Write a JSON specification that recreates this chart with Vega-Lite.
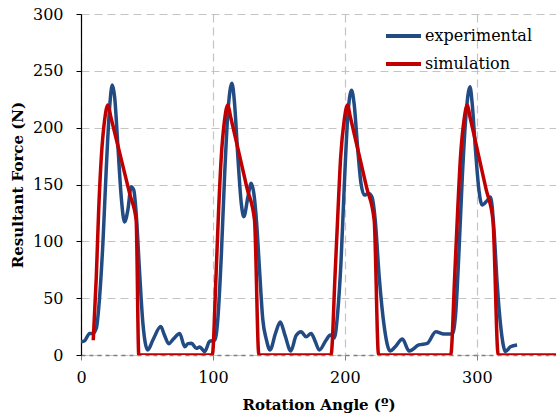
{
  "$schema": "https://vega.github.io/schema/vega-lite/v6.json",
  "width": 475,
  "height": 341,
  "autosize": "none",
  "padding": {"left": 81, "top": 14, "right": 0, "bottom": 65},
  "background": "white",
  "config": {
    "view": {"stroke": null},
    "font": "DejaVu Serif"
  },
  "datasets": {
    "exp": [
      {"angle": 0, "force": 11.7}, {"angle": 2.8, "force": 12.6}, {"angle": 6.5, "force": 19}, {"angle": 9, "force": 19},
      {"angle": 11.6, "force": 23.5}, {"angle": 14.1, "force": 51}, {"angle": 16.6, "force": 98.5}, {"angle": 19.1, "force": 162.7},
      {"angle": 21.7, "force": 218}, {"angle": 23.7, "force": 237.5}, {"angle": 25.5, "force": 227}, {"angle": 28, "force": 183},
      {"angle": 30.5, "force": 139}, {"angle": 33, "force": 117}, {"angle": 35.5, "force": 127.5}, {"angle": 38, "force": 148},
      {"angle": 40, "force": 145}, {"angle": 41.8, "force": 125}, {"angle": 44.3, "force": 75}, {"angle": 46.9, "force": 28},
      {"angle": 50.6, "force": 4.4}, {"angle": 54.4, "force": 13}, {"angle": 60.5, "force": 25}, {"angle": 63.2, "force": 17.6},
      {"angle": 66.5, "force": 10}, {"angle": 70, "force": 14}, {"angle": 74.8, "force": 19}, {"angle": 78.6, "force": 7.3},
      {"angle": 81, "force": 10}, {"angle": 83.7, "force": 10.3}, {"angle": 87.4, "force": 5.9}, {"angle": 90, "force": 7},
      {"angle": 93.7, "force": 3}, {"angle": 97.5, "force": 12}, {"angle": 101.3, "force": 13}, {"angle": 102.5, "force": 18},
      {"angle": 103.8, "force": 33}, {"angle": 106.3, "force": 86.5}, {"angle": 108.8, "force": 156.8}, {"angle": 111.3, "force": 212.6},
      {"angle": 114.4, "force": 239}, {"angle": 116.4, "force": 221}, {"angle": 118.9, "force": 174}, {"angle": 121.5, "force": 133},
      {"angle": 123.4, "force": 121.6}, {"angle": 126.5, "force": 139}, {"angle": 129, "force": 151}, {"angle": 131, "force": 142},
      {"angle": 133.3, "force": 113}, {"angle": 135.3, "force": 75}, {"angle": 137.8, "force": 31}, {"angle": 140.4, "force": 14},
      {"angle": 143.3, "force": 4.4}, {"angle": 147.4, "force": 19}, {"angle": 151, "force": 29}, {"angle": 154.7, "force": 17},
      {"angle": 159, "force": 3.5}, {"angle": 163, "force": 17}, {"angle": 166.8, "force": 20.5}, {"angle": 170.6, "force": 16},
      {"angle": 174.4, "force": 19}, {"angle": 177.5, "force": 12}, {"angle": 180.6, "force": 4.4}, {"angle": 185.7, "force": 13},
      {"angle": 189, "force": 17.6}, {"angle": 192, "force": 15}, {"angle": 194.5, "force": 36.7}, {"angle": 197, "force": 80.6},
      {"angle": 199.5, "force": 148}, {"angle": 202, "force": 206.7}, {"angle": 205, "force": 233}, {"angle": 207, "force": 221},
      {"angle": 209.6, "force": 183}, {"angle": 212.2, "force": 151}, {"angle": 214.7, "force": 140.7}, {"angle": 218, "force": 142},
      {"angle": 220.5, "force": 139}, {"angle": 223, "force": 118.7}, {"angle": 226, "force": 68.9}, {"angle": 229.8, "force": 25},
      {"angle": 234.3, "force": 3.5}, {"angle": 238, "force": 7}, {"angle": 243.6, "force": 14}, {"angle": 248.7, "force": 3.5},
      {"angle": 256, "force": 8.8}, {"angle": 262.5, "force": 10.3}, {"angle": 268.9, "force": 20.5}, {"angle": 275, "force": 18.5},
      {"angle": 281.4, "force": 18.5}, {"angle": 284, "force": 37}, {"angle": 286.5, "force": 92}, {"angle": 289, "force": 156.8},
      {"angle": 291.5, "force": 206.7}, {"angle": 294.8, "force": 236}, {"angle": 296.5, "force": 221}, {"angle": 299, "force": 180},
      {"angle": 301.6, "force": 145}, {"angle": 304, "force": 132}, {"angle": 307.9, "force": 136}, {"angle": 310.4, "force": 139},
      {"angle": 313, "force": 110}, {"angle": 315.4, "force": 63}, {"angle": 318.4, "force": 22}, {"angle": 321.8, "force": 3},
      {"angle": 325.5, "force": 7.3}, {"angle": 330.5, "force": 8.8}
    ],
    "sim": [
      {"angle": 9.3, "force": 13}, {"angle": 11.6, "force": 69}, {"angle": 13.4, "force": 127.5}, {"angle": 15.4, "force": 174},
      {"angle": 17.9, "force": 206.7}, {"angle": 20.4, "force": 220}, {"angle": 22.5, "force": 210}, {"angle": 30, "force": 174.5},
      {"angle": 37, "force": 141.5}, {"angle": 41.8, "force": 118.7}, {"angle": 43.8, "force": 0},
      {"angle": 99.5, "force": 0}, {"angle": 102.3, "force": 69}, {"angle": 104.3, "force": 127.5}, {"angle": 106.3, "force": 174},
      {"angle": 108.8, "force": 206.7}, {"angle": 111.3, "force": 220}, {"angle": 113.4, "force": 209.5}, {"angle": 120, "force": 176.3},
      {"angle": 126, "force": 146}, {"angle": 131.5, "force": 118.7}, {"angle": 134.8, "force": 0},
      {"angle": 189.5, "force": 0}, {"angle": 192.5, "force": 69}, {"angle": 194.8, "force": 127.5}, {"angle": 196.8, "force": 174},
      {"angle": 199.5, "force": 206.7}, {"angle": 202, "force": 220}, {"angle": 204.1, "force": 209.5}, {"angle": 210.5, "force": 177.4},
      {"angle": 216.5, "force": 147.3}, {"angle": 222.2, "force": 118.7}, {"angle": 225.5, "force": 0},
      {"angle": 280.2, "force": 0}, {"angle": 283.2, "force": 69}, {"angle": 285.5, "force": 127.5}, {"angle": 287.6, "force": 174},
      {"angle": 290.3, "force": 206.7}, {"angle": 292.8, "force": 220}, {"angle": 294.8, "force": 209.6}, {"angle": 301, "force": 177.2},
      {"angle": 307, "force": 145.9}, {"angle": 312.2, "force": 118.7}, {"angle": 316.2, "force": 0},
      {"angle": 360, "force": 0}
    ]
  },
  "layer": [
    {
      "data": {"name": "exp"},
      "transform": [{"calculate": "'experimental'", "as": "series"}],
      "mark": {"type": "line", "interpolate": "monotone", "strokeWidth": 3.5, "clip": true},
      "encoding": {
        "x": {
          "field": "angle", "type": "quantitative",
          "scale": {"domain": [0, 360], "nice": false},
          "axis": {
            "values": [0, 100, 200, 300],
            "title": "Rotation Angle (º)",
            "titleFont": "DejaVu Serif", "titleFontSize": 15, "titleFontWeight": "bold", "titleColor": "#000",
            "titlePadding": 12,
            "labelFont": "DejaVu Serif", "labelFontSize": 16, "labelColor": "#000", "labelPadding": 9,
            "labelFlush": false,
            "grid": true, "gridColor": "#c4c4c4", "gridDash": [8, 5], "gridWidth": 1.2,
            "domainColor": "#7f7f7f", "domainDash": [4, 4], "domainWidth": 1.5,
            "tickColor": "#7f7f7f", "tickSize": 5
          }
        },
        "y": {
          "field": "force", "type": "quantitative",
          "scale": {"domain": [0, 300], "nice": false},
          "axis": {
            "values": [0, 50, 100, 150, 200, 250, 300],
            "title": "Resultant Force (N)",
            "titleFont": "DejaVu Serif", "titleFontSize": 15, "titleFontWeight": "bold", "titleColor": "#000",
            "titlePadding": 7,
            "labelFont": "DejaVu Serif", "labelFontSize": 16, "labelColor": "#000", "labelPadding": 13,
            "grid": true, "gridColor": "#c4c4c4", "gridDash": [8, 5], "gridWidth": 1.2,
            "domainColor": "#000", "domainWidth": 1.2,
            "tickColor": "#000", "tickSize": 5
          }
        },
        "color": {
          "field": "series", "type": "nominal",
          "scale": {"domain": ["experimental", "simulation"], "range": ["#234B83", "#C00000"]},
          "legend": {
            "title": null, "orient": "none", "legendX": 303, "legendY": 2.5,
            "symbolType": "stroke", "symbolSize": 1225, "symbolStrokeWidth": 4,
            "labelFont": "DejaVu Serif", "labelFontSize": 16, "labelColor": "#000",
            "labelOffset": 2, "rowPadding": -13, "symbolOffset": 0
          }
        }
      }
    },
    {
      "data": {"name": "sim"},
      "transform": [{"calculate": "'simulation'", "as": "series"}],
      "mark": {"type": "line", "interpolate": "monotone", "strokeWidth": 3.5, "clip": true},
      "encoding": {
        "x": {"field": "angle", "type": "quantitative"},
        "y": {"field": "force", "type": "quantitative"},
        "color": {"field": "series", "type": "nominal"}
      }
    },
    {
      "mark": {"type": "rule", "color": "#000", "strokeWidth": 1.2},
      "encoding": {"y": {"datum": 300}}
    }
  ]
}
